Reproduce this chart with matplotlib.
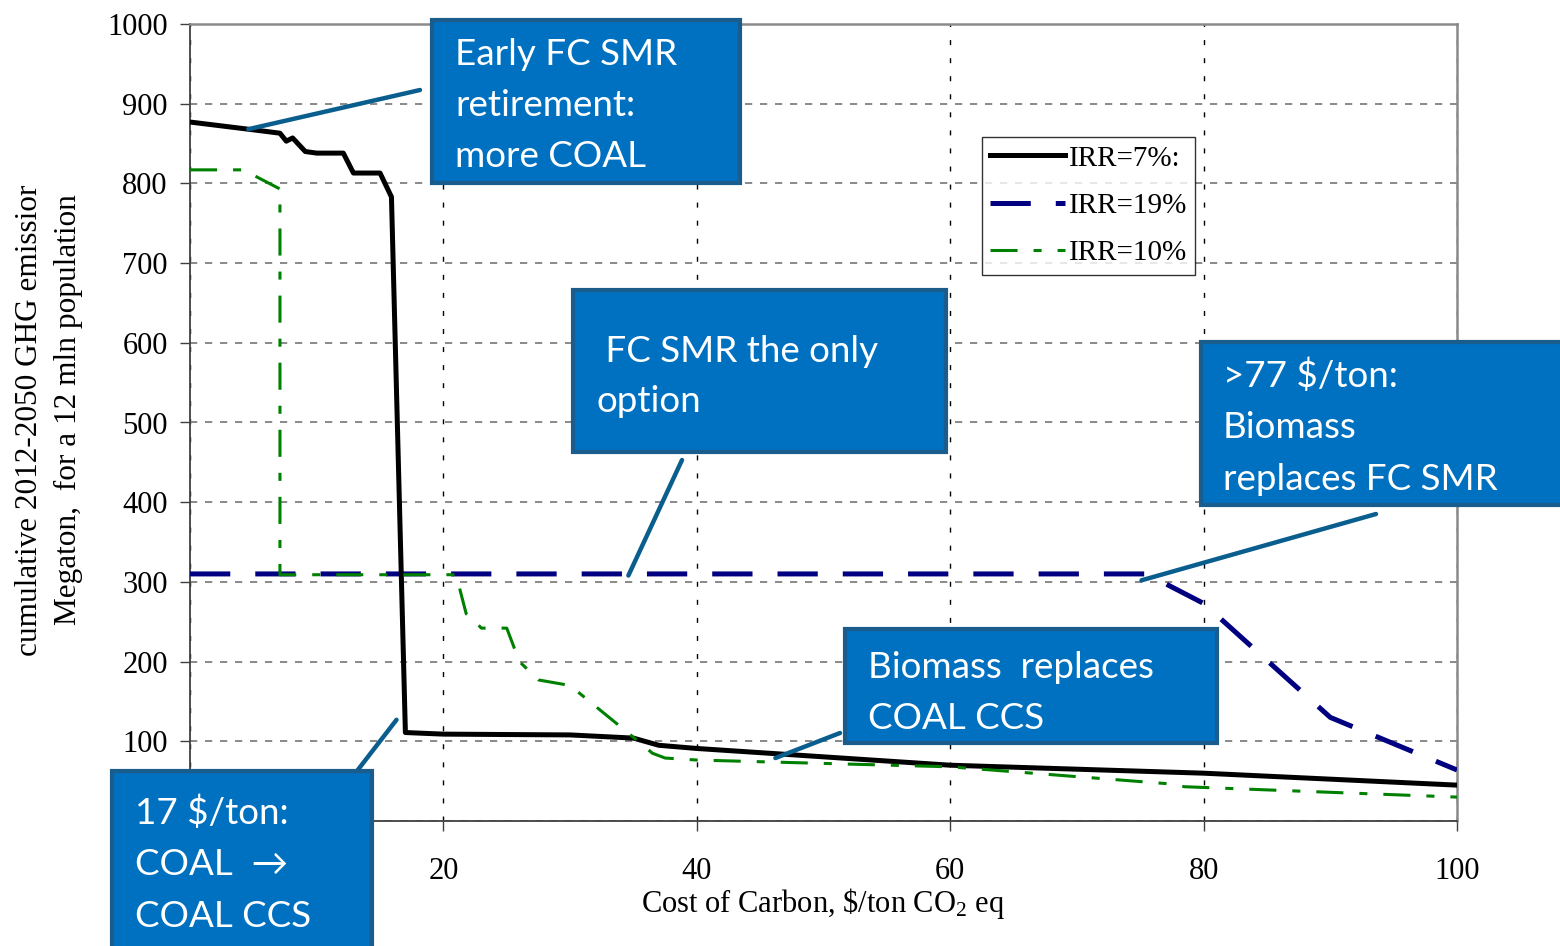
import matplotlib
matplotlib.use('Agg')
import matplotlib.pyplot as plt
from matplotlib.patches import Rectangle

# ---------------- data ----------------
cost_irr7 = [0, 4.6, 7.1, 7.6, 8.1, 9.1, 10, 12.1, 12.9, 15, 15.9, 17, 20, 30, 35, 37, 40, 60, 80, 100]
emis_irr7 = [877, 868, 863, 853, 857, 840, 838, 838, 813, 813, 783, 111, 109, 108, 104, 95, 91, 70, 60, 45]

cost_irr19 = [0, 75.5, 80, 90, 100]
emis_irr19 = [310, 310, 273, 130, 64]

cost_irr10 = [0, 4.2, 7.1, 7.1, 21, 21.8, 22.5, 23, 25, 26, 27.5, 30, 35, 36.5, 37.5, 40, 60, 77, 78.5, 90, 100]
emis_irr10 = [817, 817, 793, 309, 309, 260, 250, 242, 242, 200, 177, 170, 105, 85, 79, 76.5, 68, 47, 43, 36, 30]

series_labels = ['IRR=7%:', 'IRR=19%', 'IRR=10%']
x_ticks = [0, 20, 40, 60, 80, 100]
x_tick_labels = ['', '20', '40', '60', '80', '100']   # 0 is hidden under a note box
y_ticks = [0, 100, 200, 300, 400, 500, 600, 700, 800, 900, 1000]
y_tick_labels = ['', '100', '200', '300', '400', '500', '600', '700', '800', '900', '1000']

x_label = 'Cost of Carbon, \\$/ton CO$_2$ eq'
y_label_lines = ['cumulative 2012-2050 GHG emissior', 'Megaton,  for a 12 mln population']

# annotation boxes: text lines
notes = [
    ['Early FC SMR', 'retirement:', 'more COAL'],
    [' FC SMR the only', 'option'],
    ['>77 $/ton:', 'Biomass', 'replaces FC SMR'],
    ['Biomass  replaces', 'COAL CCS'],
    ['17 $/ton:', 'COAL  \u2192', 'COAL CCS'],
]
# points the pointers touch (data coords)
note_targets = [(4.6, 868), (34.6, 308), (75.1, 302), (46.2, 79), (16.3, 127)]

# ---------------- style ----------------
W, H = 1560, 946
plt.rcParams['lines.scale_dashes'] = False
plt.rcParams['mathtext.fontset'] = 'custom'
plt.rcParams['mathtext.rm'] = 'Liberation Serif'
plt.rcParams['mathtext.it'] = 'Liberation Serif:italic'
SERIF = 'Liberation Serif'
BOXFONT = ['Lato', 'DejaVu Sans']
BOX_FILL = '#0070C0'
BOX_EDGE = '#1A5C8C'
PTR = '#0A5E8E'

fig = plt.figure(figsize=(W / 100, H / 100), dpi=100)
ax = fig.add_axes([190 / W, 1 - 821 / H, (1457 - 190) / W, (821 - 24) / H])
ax.set_xlim(0, 100)
ax.set_ylim(0, 1000)

ax.set_xticks(x_ticks)
ax.set_xticklabels(x_tick_labels)
ax.set_yticks(y_ticks)
ax.set_yticklabels(y_tick_labels)
ax.tick_params(axis='both', direction='out', length=7, width=1, labelsize=22, color='#404040')
ax.tick_params(axis='x', pad=19)
ax.tick_params(axis='y', pad=9)
for lab in ax.get_xticklabels() + ax.get_yticklabels():
    lab.set_fontfamily(SERIF)

ax.xaxis.grid(True, color='black', linestyle=(0, (3.6, 9.4)), lw=1.0)
ax.yaxis.grid(True, color='#808080', linestyle=(0, (5.2, 5.6)), lw=1.3)
ax.set_axisbelow(True)

for s in ['left', 'bottom']:
    ax.spines[s].set_color('#404040')
    ax.spines[s].set_linewidth(1.3)
for s in ['top', 'right']:
    ax.spines[s].set_color('#8a8a8a')
    ax.spines[s].set_linewidth(1.8)

l7, = ax.plot(cost_irr7, emis_irr7, color='black', lw=3.6, zorder=5)
l19, = ax.plot(cost_irr19, emis_irr19, color='#000080', lw=3.6, linestyle=(0, (29, 18)), zorder=4)
l10, = ax.plot(cost_irr10, emis_irr10, color='#008000', lw=2.2, linestyle=(0, (19.5, 11.5, 5.8, 11.5)), zorder=6)

leg = fig.legend([l7, l19, l10], series_labels, loc='upper left',
                 bbox_to_anchor=(982 / W, 1 - 137 / H), borderaxespad=0,
                 prop={'family': SERIF, 'size': 21}, frameon=True, fancybox=False,
                 edgecolor='black', handlelength=2.55, handletextpad=0.15,
                 labelspacing=0.72, borderpad=0.28)
leg.get_frame().set_linewidth(1.0)

fig.text(823 / W, 1 - 903 / H, x_label, ha='center', va='center', fontsize=22, family=SERIF)
fig.text(30 / W, 1 - 420 / H, y_label_lines[0], rotation=90, ha='center', va='center', fontsize=22.5, family=SERIF)
fig.text(68 / W, 1 - 410 / H, y_label_lines[1], rotation=90, ha='center', va='center', fontsize=22.5, family=SERIF)

# ---------------- annotation boxes (figure pixel layout) ----------------
box_rects = [(432, 20, 740, 183), (573, 290, 946, 452), (1201, 342, 1580, 505),
             (845, 629, 1217, 743), (112, 771, 372, 970)]
text_left = [[455, 455, 455], [596, 596], [1223, 1223, 1223], [868, 868], [135, 135, 135]]
text_base = [[65, 116, 167], [362, 412], [387, 438, 490], [678, 729], [824, 875, 927]]
ptr_start = [(420, 90), (682, 460), (1376, 514), (840, 733), (357, 771)]

for i, (x0, y0, x1, y1) in enumerate(box_rects):
    r = Rectangle((x0 / W, 1 - y1 / H), (x1 - x0) / W, (y1 - y0) / H, transform=fig.transFigure,
                  facecolor=BOX_FILL, edgecolor=BOX_EDGE, lw=3, zorder=20, clip_on=False)
    fig.add_artist(r)
    for line, tx, ty in zip(notes[i], text_left[i], text_base[i]):
        fig.text(tx / W, 1 - ty / H, line, ha='left', va='baseline', color='white',
                 fontsize=26.5, family=BOXFONT, zorder=21)
    px, py = ptr_start[i]
    ax.annotate('', xy=note_targets[i], xycoords='data', xytext=(px / W, 1 - py / H),
                textcoords='figure fraction',
                arrowprops=dict(arrowstyle='-', color=PTR, lw=3.2, shrinkA=0, shrinkB=0),
                zorder=15, annotation_clip=False)

fig.savefig('out.png', dpi=100)
